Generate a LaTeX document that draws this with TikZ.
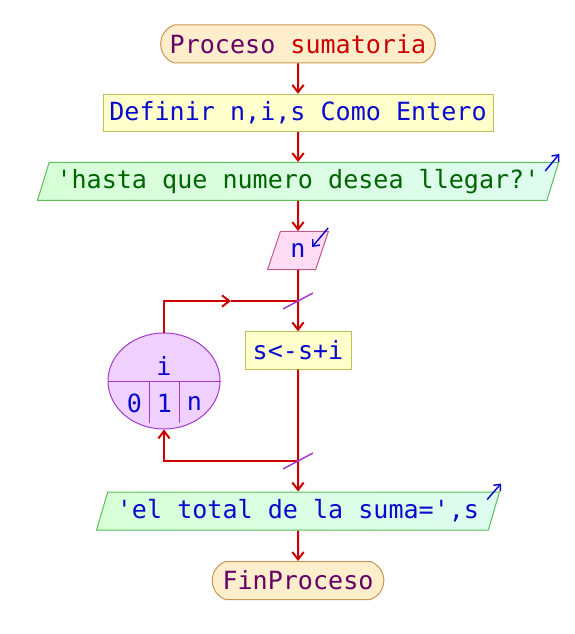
\documentclass[tikz,border=0pt]{standalone}
\usepackage{fontspec}
\setmonofont{DejaVu Sans Mono}
\usepackage{tikz}
\usetikzlibrary{arrows.meta,shapes.geometric,shapes.misc,calc}
\definecolor{smrojo}{RGB}{204,0,0}
\definecolor{smazul}{RGB}{10,10,205}
\definecolor{smverde}{RGB}{0,100,0}
\definecolor{smmorado}{RGB}{102,0,102}
\definecolor{smtermfill}{RGB}{255,238,204}
\definecolor{smtermline}{RGB}{204,150,80}
\definecolor{smdeffill}{RGB}{255,255,204}
\definecolor{smdefline}{RGB}{190,190,90}
\definecolor{smiofill}{RGB}{214,255,214}
\definecolor{smiofillb}{RGB}{222,252,240}
\definecolor{smioline}{RGB}{90,190,90}
\definecolor{sminfill}{RGB}{255,220,244}
\definecolor{sminline}{RGB}{190,90,140}
\definecolor{smparafill}{RGB}{240,208,255}
\definecolor{smparaline}{RGB}{160,60,200}
\newcommand{\smfont}{\ttfamily\fontsize{18.8}{22}\selectfont}
\tikzset{
  smbox/.style={draw,line width=0.75pt,inner sep=2pt,font=\smfont,
    text=smazul},
  smterm/.style={smbox,rounded rectangle,rounded rectangle arc length=140,
    fill=smtermfill,draw=smtermline,text=smmorado,minimum height=28.5pt},
  smdef/.style={smbox,rectangle,fill=smdeffill,draw=smdefline,
    minimum height=28pt},
  smio/.style={smbox,trapezium,trapezium left angle=69,
    trapezium right angle=111,trapezium stretches=true,
    left color=smiofill,right color=smiofillb,draw=smioline,
    minimum height=28.5pt},
  smin/.style={smio,left color=sminfill,right color=sminfill,
    draw=sminline},
  smpara/.style={draw=smparaline,line width=0.75pt,fill=smparafill,
    ellipse,inner sep=0pt,minimum width=84pt,minimum height=72pt},
  smtxt/.style={inner sep=0pt,font=\smfont,text=smazul},
  smflow/.style={-{Straight Barb[length=5.5pt,width=8.5pt]},
    line width=1.5pt,draw=smrojo},
  smline/.style={line width=1.5pt,draw=smrojo},
  smicon/.style={-{Straight Barb[length=4pt,width=7pt]},
    line width=1.1pt,draw=smazul},
  smtick/.style={line width=1.1pt,draw=smparaline},
  smdiv/.style={line width=0.75pt,draw=smparaline},
}
\begin{document}
\begin{tikzpicture}[x=0.75pt,y=-0.75pt]
\useasboundingbox (0,0) rectangle (574,634);
% main column
\node[smterm,minimum width=210pt] (ini) at (298,44)
  {Proceso \textcolor{smrojo}{sumatoria}};
\node[smdef,minimum width=292.5pt] (def) at (298,113)
  {Definir n,i,s Como Entero};
\node[smio,minimum width=393pt,text=smverde] (pide) at (298,181.5)
  {'hasta que numero desea llegar?'};
\node[smin,minimum width=45.75pt] (lee) at (298,250.5) {n};
\node[smdef,minimum width=79.5pt] (suma) at (298,350.5) {s<-s+i};
\node[smio,minimum width=303pt] (muestra) at (298,511)
  {'el total de la suma=',s};
\node[smterm,minimum width=132.75pt] (fin) at (298,580.5) {FinProceso};
% loop
\node[smpara] (para) at (164,381) {};
\draw[smdiv] (para.west) -- (para.east);
\draw[smdiv] ($(para.center)+(-15,0)$) -- ++(0,42);
\draw[smdiv] ($(para.center)+(15,0)$) -- ++(0,42);
\node[smtxt] (var) at (164,366) {i};
\node[smtxt] (vini) at (134.5,403) {0};
\node[smtxt] (vpaso) at (164.5,403) {1};
\node[smtxt] (vfin) at (194.5,403) {n};
\coordinate (jtop) at (298,301);
\coordinate (jbot) at (298,461);
\coordinate (lmid) at (231,301);
% connectors
\draw[smflow] (ini) -- (def);
\draw[smflow] (def) -- (pide);
\draw[smflow] (pide) -- (lee);
\draw[smflow] (lee) -- (suma);
\draw[smflow] (suma) -- (muestra);
\draw[smflow] (muestra) -- (fin);
\draw[smflow] (para.north) |- (lmid);
\draw[smline] (lmid) -- (jtop);
\draw[smflow] (jbot) -| (para.south);
\draw[smtick] ($(jtop)+(-15,8)$) -- ($(jtop)+(15,-8)$);
\draw[smtick] ($(jbot)+(-15,8)$) -- ($(jbot)+(15,-8)$);
% io marks
\draw[smicon] ($(pide.top right corner)+(-14,9)$) -- ++(14,-17);
\draw[smicon] ($(muestra.top right corner)+(-13,8)$) -- ++(14,-16);
\draw[smicon] ($(lee.top right corner)+(-1,-3)$) -- ++(-16,19);
\end{tikzpicture}
\end{document}
